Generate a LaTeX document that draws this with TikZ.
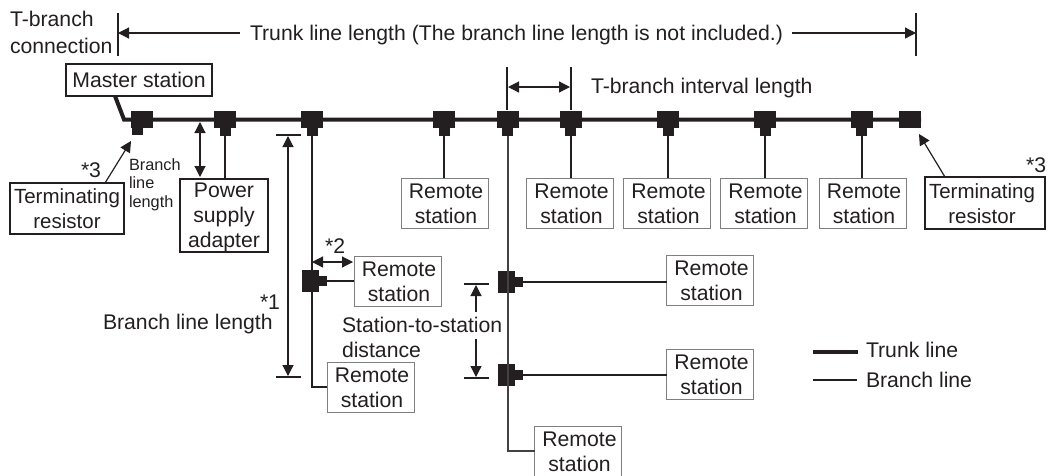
\documentclass[tikz,border=0pt]{standalone}
\usepackage{fontspec}
\setmainfont{Liberation Sans}
\usetikzlibrary{arrows.meta}
\definecolor{ink}{HTML}{231F20}
\definecolor{edge}{HTML}{7F7F7F}
\newcommand\strA{\leavevmode\kern3pt\rule{0pt}{20pt}\rule[-5pt]{0pt}{5pt}}
\newcommand\strB{\leavevmode\rule{0pt}{20pt}\rule[-5pt]{0pt}{5pt}}
\newcommand\strC{\leavevmode\rule{0pt}{18pt}\rule[-5pt]{0pt}{5pt}}
\newcommand\strD{\leavevmode\rule{0pt}{16pt}\rule[-6pt]{0pt}{6pt}}
\newcommand\strE{\leavevmode\rule{0pt}{14pt}\rule[-4.5pt]{0pt}{4.5pt}}
\newcommand\strF{\leavevmode\rule{0pt}{20pt}\rule[-6pt]{0pt}{6pt}}
\tikzset{
  x=1pt,y=-1pt,
  every node/.style={text=ink,font=\fontsize{21.2}{25}\selectfont,inner sep=0pt,outer sep=0pt},
  rbox/.style={draw=edge,line width=1pt,align=center,minimum width=87pt,minimum height=50pt,fill=white},
  dbox/.style={draw=ink,line width=1.2pt,align=center,fill=white},
  term/.style={dbox,font=\fontsize{20.5}{25}\selectfont},
  lab/.style={anchor=base west},
  teetop/.style={fill=ink,minimum width=22pt,minimum height=17pt},
  teestem/.style={fill=ink,minimum width=11pt,minimum height=8pt,anchor=north},
  sidetop/.style={fill=ink,minimum width=17pt,minimum height=22pt},
  sidestem/.style={fill=ink,minimum width=8pt,minimum height=10pt,anchor=west},
  trunk/.style={draw=ink,line width=4pt},
  branch/.style={draw=ink,line width=2pt},
  tick/.style={draw=ink,line width=2pt},
  dim/.style={draw=ink,line width=1.2pt,{Triangle[width=11pt,length=11pt]}-{Triangle[width=11pt,length=11pt]}},
  endarrow/.style={draw=ink,line width=1.2pt,-{Triangle[width=11pt,length=11pt]}},
}
\begin{document}
\begin{tikzpicture}
\useasboundingbox (0,0) rectangle (1047,475);
% boxes
\node[dbox,minimum width=146pt,minimum height=32pt] (master) at (139,80) {Master station};
\node[term,minimum width=114pt,minimum height=51pt] (termL) at (67,208.5) {\strB Terminating\\\strB resistor};
\node[term,minimum width=120pt,minimum height=52pt] (termR) at (985,203) {\strB Terminating\hspace*{6pt}\\\strB resistor\hspace*{6pt}};
\node[dbox,minimum width=88pt,minimum height=71pt] (power) at (224,215.5) {\strC Power\\\strC supply\\\strC adapter};
\node[rbox] (r1) at (444.5,203) {\strA Remote\\\strA station};
\node[rbox] (r2) at (570,203) {\strA Remote\\\strA station};
\node[rbox] (r3) at (667,203) {\strA Remote\\\strA station};
\node[rbox] (r4) at (764,203) {\strA Remote\\\strA station};
\node[rbox] (r5) at (862.5,203) {\strA Remote\\\strA station};
\node[rbox] (r6) at (397.5,281) {\strA Remote\\\strA station};
\node[rbox] (r7) at (370.5,387) {\strA Remote\\\strA station};
\node[rbox] (r8) at (710,280) {\strA Remote\\\strA station};
\node[rbox] (r9) at (710,374) {\strA Remote\\\strA station};
\node[rbox] (r10) at (578,451) {\strA Remote\\\strA station};
% T-branch connectors
\node[teetop] (t1) at (142,119.5) {};
\node[teestem] (t1s) at (137.5,127) {};
\foreach \n/\xx in {t2/225,t3/312,t4/444,t5/507.5,t6/570.5,t7/668,t8/765,t9/861.5}{
  \node[teetop] (\n) at (\xx,119.5) {};
  \node[teestem] (\n s) at (\n.south) {};
}
\node[teetop] (tend) at (910,119.5) {};
\node[sidetop] (sa) at (310,281) {};
\node[sidestem] (sas) at (sa.east) {};
\node[sidetop] (sb) at (506.5,281.5) {};
\node[sidestem] (sbs) at (sb.east) {};
\node[sidetop] (sc) at (506.5,375) {};
\node[sidestem] (scs) at (sc.east) {};
% trunk
\coordinate (mb) at (115,96);
\coordinate (bend) at (124,119.5);
\draw[trunk] (mb) -- (bend) -- (tend.east);
% branches
\draw[branch] (t2s.south) -- (t2s.south |- power.north);
\draw[branch] (t4s.south) -- (t4s.south |- r1.north);
\draw[branch] (t6s.south) -- (t6s.south |- r2.north);
\draw[branch] (t7s.south) -- (t7s.south |- r3.north);
\draw[branch] (t8s.south) -- (t8s.south |- r4.north);
\draw[branch] (t9s.south) -- (t9s.south |- r5.north);
\draw[branch] (t3s.south) |- (r7.west);
\draw[branch,draw=ink!85] (t5s.south) |- (r10.west);
\draw[branch] (sas.east) -- (sas.east -| r6.west);
\draw[branch] (sbs.east) -- (sbs.east -| r8.west);
\draw[branch] (scs.east) -- (scs.east -| r9.west);
% trunk line length
\coordinate (ba) at (118,13); \coordinate (bb) at (118,56);
\coordinate (bc) at (916,13); \coordinate (bd) at (916,56);
\draw[tick] (ba) -- (bb);
\draw[tick] (bc) -- (bd);
\node[lab] (tl) at (250,40) {Trunk line length (The branch line length is not included.)};
\coordinate (lm) at (118,33); \coordinate (rm) at (916,33);
\draw[endarrow] (tl.west |- lm) ++(-10,0) -- (lm);
\draw[endarrow] (tl.east |- rm) ++(9,0) -- (rm);
\node[anchor=north west,align=left] (tb) at (10,6) {\strF T-branch\\\strF connection};
% interval
\coordinate (ia) at (507,67); \coordinate (ib) at (507,110);
\coordinate (ic) at (571,67); \coordinate (id) at (571,110);
\draw[tick] (ia) -- (ib);
\draw[tick] (ic) -- (id);
\coordinate (ie) at (508,87); \coordinate (if) at (570,87);
\draw[dim] (ie) -- (if);
\node[lab] (il) at (591,93) {T-branch interval length};
% left labels
\node[anchor=north west,align=left,font=\fontsize{16.3}{18.5}\selectfont] (bl) at (129,156) {\strE Branch\\\strE line\\\strE length};
\node[lab] (s3l) at (81,177) {*3};
\node[lab] (s3r) at (1026,172) {*3};
\coordinate (tla) at (105,183); \coordinate (tlb) at (131,141);
\coordinate (tra) at (945,177); \coordinate (trb) at (919,134);
\draw[endarrow] (tla) -- (tlb);
\draw[endarrow] (tra) -- (trb);
\coordinate (pa) at (200,122); \coordinate (pb) at (200,177);
\draw[dim] (pa) -- (pb);
% *1
\coordinate (d1a) at (276,135); \coordinate (d1b) at (301,135);
\coordinate (d1c) at (276,377); \coordinate (d1d) at (301,377);
\coordinate (d1e) at (288,136); \coordinate (d1f) at (288,376);
\draw[tick] (d1a) -- (d1b);
\draw[tick] (d1c) -- (d1d);
\draw[dim] (d1e) -- (d1f);
\node[lab] (s1) at (260,309) {*1};
\node[lab] (bll) at (103,329) {Branch line length};
% *2
\coordinate (d2a) at (312,262); \coordinate (d2b) at (353,262);
\draw[dim] (d2a) -- (d2b);
\node[lab] (s2) at (325,253) {*2};
% station-to-station
\node[anchor=north west,align=left] (ssd) at (342,316) {\strD Station-to-station\\\strD distance};
\coordinate (e1a) at (464,284); \coordinate (e1b) at (489,284);
\coordinate (e2a) at (464,378); \coordinate (e2b) at (489,378);
\draw[tick] (e1a) -- (e1b);
\draw[tick] (e2a) -- (e2b);
\coordinate (e3) at (476,285); \coordinate (e4) at (476,312);
\coordinate (e5) at (476,339); \coordinate (e6) at (476,377);
\draw[endarrow] (e4) -- (e3);
\draw[endarrow] (e5) -- (e6);
% legend
\coordinate (la) at (813,352); \coordinate (lb) at (858,352);
\coordinate (lc) at (813,380); \coordinate (ld) at (857,380);
\draw[trunk] (la) -- (lb);
\draw[branch] (lc) -- (ld);
\node[lab] (lt) at (866,357) {Trunk line};
\node[lab] (lbr) at (866,387) {Branch line};
\end{tikzpicture}
\end{document}
